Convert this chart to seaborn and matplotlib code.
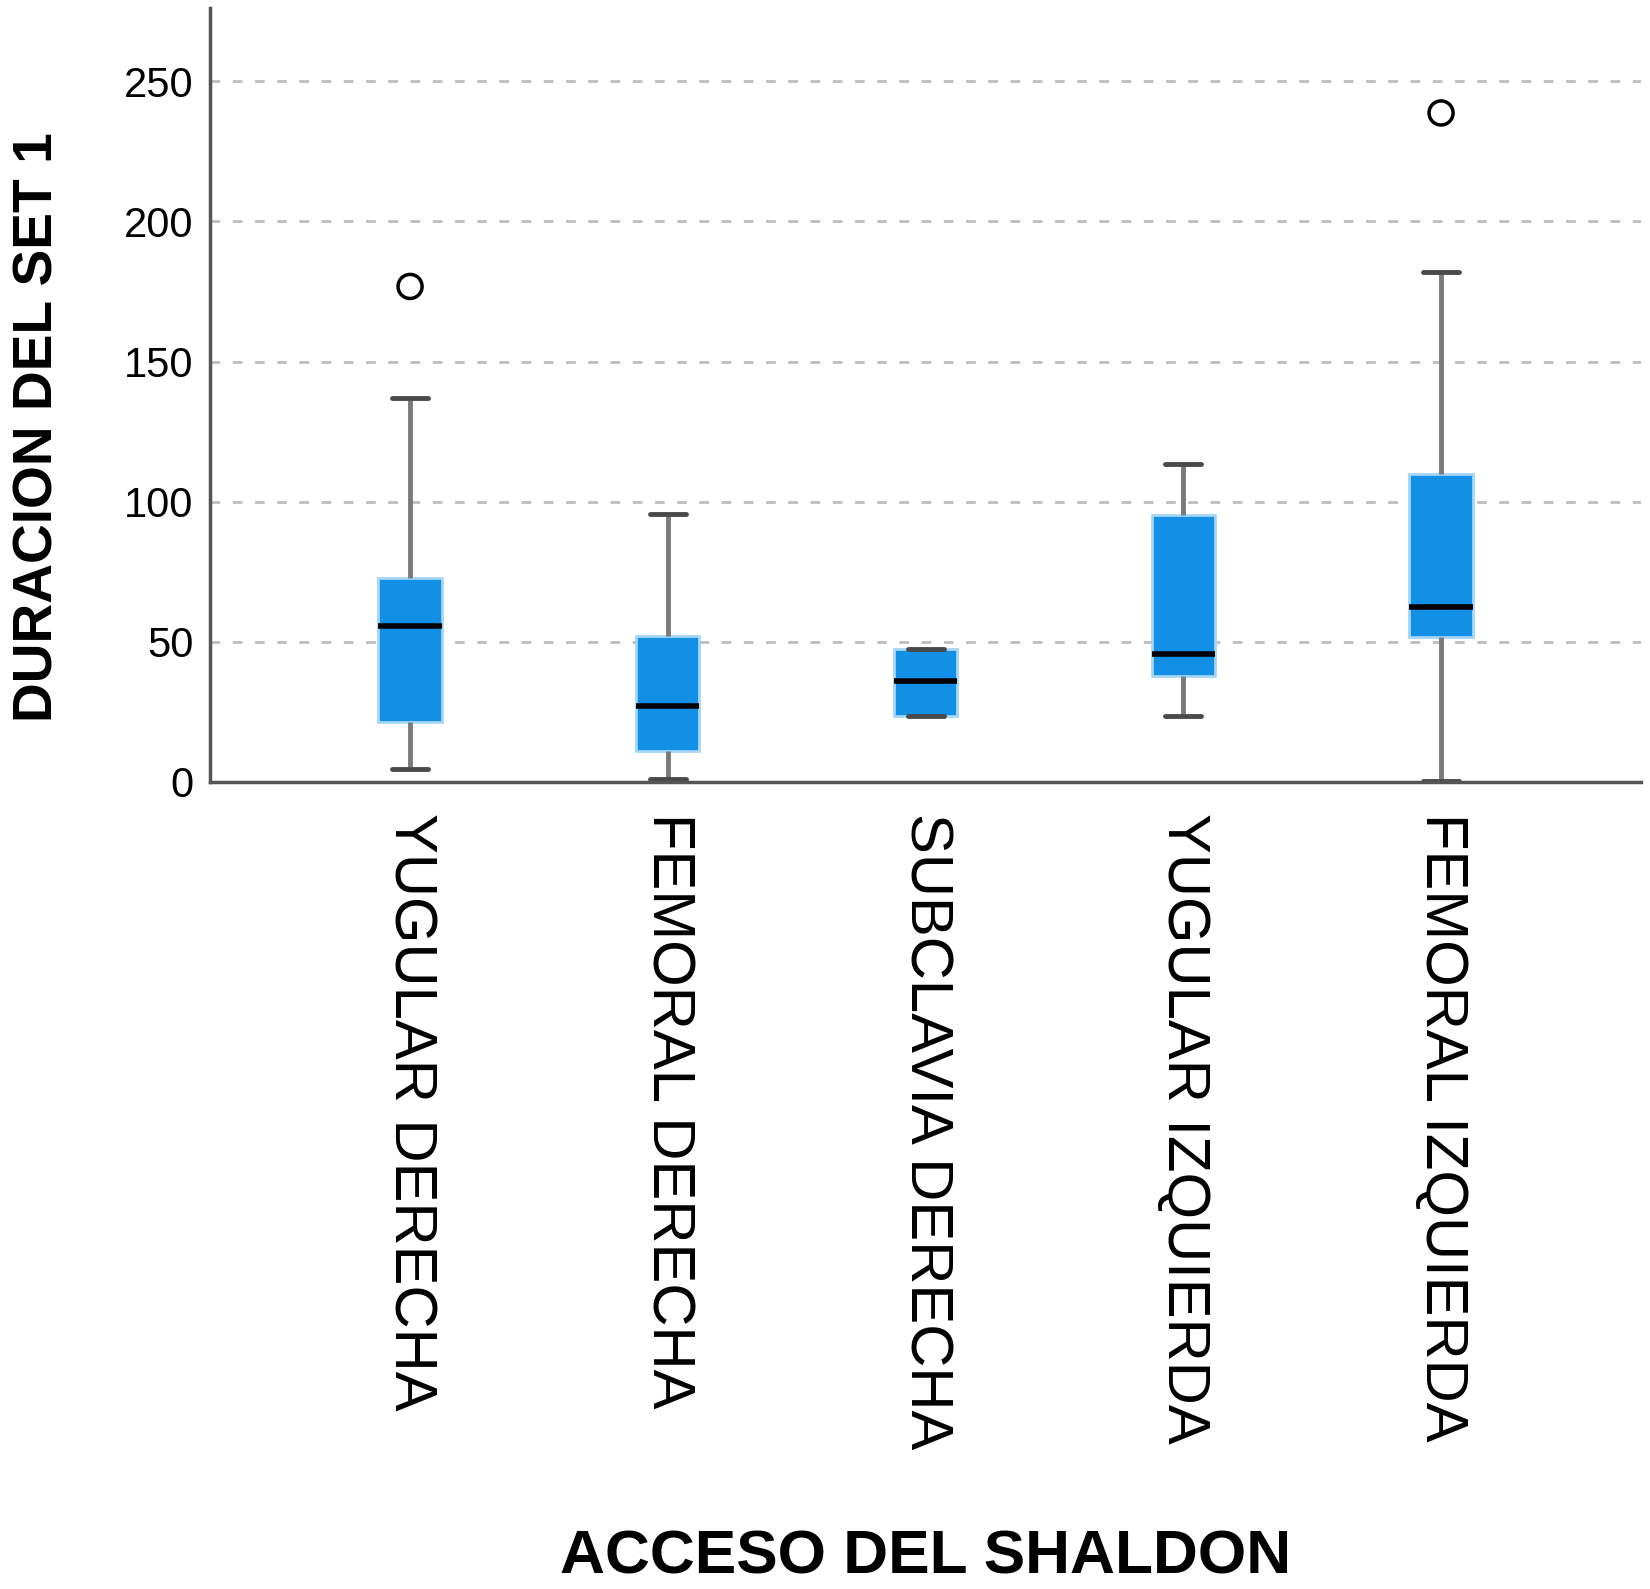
import pandas as pd
import seaborn as sns
import matplotlib.pyplot as plt
from matplotlib import font_manager

# categories and box values (min, q1, median, q3, max)
categorias = ['YUGULAR DERECHA', 'FEMORAL DERECHA', 'SUBCLAVIA DERECHA',
              'YUGULAR IZQUIERDA', 'FEMORAL IZQUIERDA']
yugular_der = [4.5, 21.4, 55.6, 72.8, 137.0]
femoral_der = [1.1, 10.9, 27.0, 52.2, 95.7]
subclavia_der = [23.6, 23.6, 36.0, 47.3, 47.3]
yugular_izq = [23.6, 37.9, 45.8, 95.3, 113.4]
femoral_izq = [0.4, 51.8, 62.3, 110.0, 182.0]
# atipicos
atipicos_cat = ['YUGULAR DERECHA', 'FEMORAL IZQUIERDA']
atipicos_val = [176.8, 238.7]
yticks = [0, 50, 100, 150, 200, 250]

grupos = [yugular_der, femoral_der, subclavia_der, yugular_izq, femoral_izq]
rows = []
for cat, vals in zip(categorias, grupos):
    for v in vals:
        rows.append({'acceso': cat, 'duracion': v})
df = pd.DataFrame(rows)
df_out = pd.DataFrame({'acceso': atipicos_cat, 'duracion': atipicos_val})

sns.set_style('white')
names = {f.name for f in font_manager.fontManager.ttflist}
narrow = 'Liberation Sans Narrow' if 'Liberation Sans Narrow' in names else 'Liberation Sans'
lab_scale = 1.0 if narrow == 'Liberation Sans Narrow' else 0.83
plt.rcParams['font.family'] = ['Liberation Sans', 'DejaVu Sans']
plt.rcParams['text.color'] = 'black'
plt.rcParams['axes.labelcolor'] = 'black'
plt.rcParams['xtick.color'] = 'black'
plt.rcParams['ytick.color'] = 'black'

fig = plt.figure(figsize=(16.5, 15.89), dpi=100)
ax = fig.add_axes([0.1273, 0.5079, 0.8673, 0.4868])

sns.boxplot(data=df, x='acceso', y='duracion', order=categorias, ax=ax,
            width=0.245, whis=1.5, showfliers=False,
            boxprops=dict(facecolor='#1190E6', edgecolor='#A6D6F7', linewidth=2),
            medianprops=dict(color='black', linewidth=4),
            whiskerprops=dict(color='#7A7A7A', linewidth=3.5),
            capprops=dict(color='#4A4A4A', linewidth=3.5),
            capwidths=0.14)
sns.scatterplot(data=df_out, x='acceso', y='duracion', ax=ax, marker='o',
                s=300, facecolor='none', edgecolor='black', linewidth=2.5, zorder=5)

ax.set_xlim(-0.776, 4.776)
ax.set_ylim(0, 276)
ax.set_yticks(yticks)
ax.yaxis.grid(True, linestyle=(0, (3.5, 4.5)), color='#BDBDBD', linewidth=2)
ax.xaxis.grid(False)
ax.set_axisbelow(True)

for s in ['top', 'right']:
    ax.spines[s].set_visible(False)
for s in ['left', 'bottom']:
    ax.spines[s].set_color('#555555')
    ax.spines[s].set_linewidth(2.5)

ax.tick_params(axis='y', length=0, pad=12, labelsize=30)
ax.tick_params(axis='x', length=0, pad=22, labelsize=43, labelrotation=270)
for lbl in ax.get_xticklabels():
    lbl.set_va('top')
    lbl.set_ha('center')

ax.set_xlabel('ACCESO DEL SHALDON', fontsize=54 * lab_scale, fontweight='bold',
              family=[narrow, 'DejaVu Sans'])
ax.set_ylabel('DURACION DEL SET 1', fontsize=46 * lab_scale * 1.04, fontweight='bold',
              family=[narrow, 'DejaVu Sans'])
ax.xaxis.label.set(va='center', ha='center')
ax.xaxis.set_label_coords(0.5, -1.003)
ax.yaxis.label.set(va='center', ha='center', rotation_mode='default')
ax.yaxis.set_label_coords(-0.12, 0.4585)

fig.savefig('out.png', dpi=100)
